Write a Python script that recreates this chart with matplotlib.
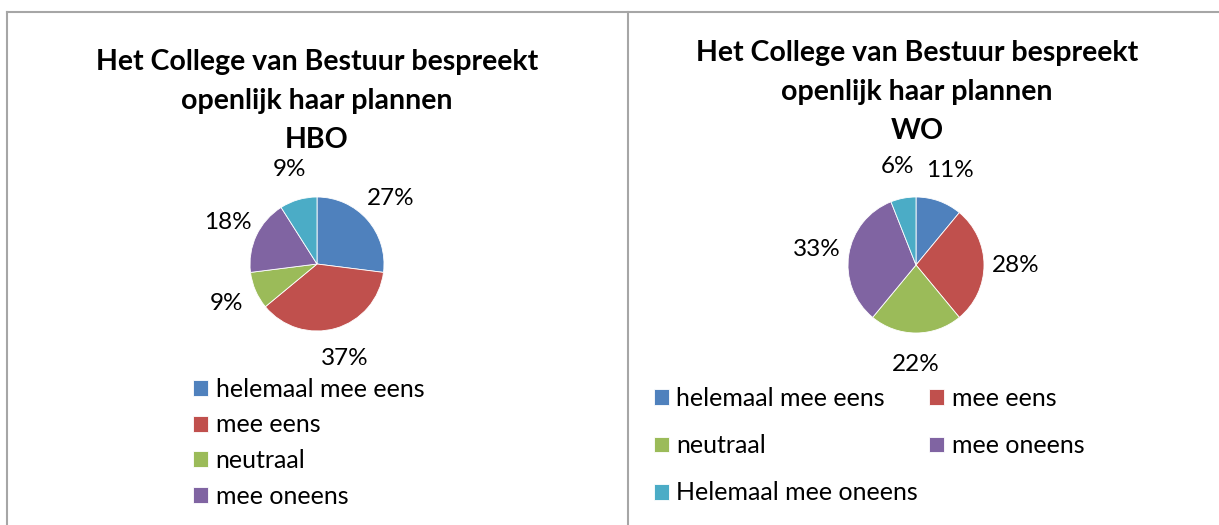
import matplotlib
matplotlib.use("Agg")
import matplotlib.pyplot as plt
from matplotlib.lines import Line2D

plt.rcParams['font.family'] = ['Lato', 'DejaVu Sans']

# ============================================
# DATA
# ============================================
categories = ["helemaal mee eens", "mee eens", "neutraal", "mee oneens", "Helemaal mee oneens"]
hbo_values = [27, 37, 9, 18, 9]
wo_values = [11, 28, 22, 33, 6]
title_main = "Het College van Bestuur bespreekt\nopenlijk haar plannen"
panel_names = ["HBO", "WO"]

colors = ["#4F81BD", "#C0504D", "#9BBB59", "#8064A2", "#4BACC6"]

W, H = 1219, 525
fig = plt.figure(figsize=(W / 100, H / 100), dpi=100)


def px_axes(cx, cy, r, span=1.6):
    """Square axes centred on pixel (cx, cy) with pie radius r pixels."""
    half = r * span
    return fig.add_axes([(cx - half) / W, (H - cy - half) / H, 2 * half / W, 2 * half / H])


def draw_pie(ax, values):
    wedges, _, autotexts = ax.pie(
        values, colors=colors, startangle=90, counterclock=False,
        autopct='%1.0f%%', pctdistance=1.47,
        wedgeprops=dict(linewidth=0.6, edgecolor='white'),
        textprops=dict(fontsize=17.5, color='black'))
    ax.set_xlim(-1.6, 1.6)
    ax.set_ylim(-1.6, 1.6)
    ax.set_aspect('equal')
    ax.axis('off')
    return wedges


legend_kw = dict(frameon=False, fontsize=18, handlelength=0.6, handleheight=0.6,
                 handletextpad=0.3, borderpad=0, borderaxespad=0)

# left panel (HBO)
ax_l = px_axes(317, 264, 67)
wedges_l = draw_pie(ax_l, hbo_values)
fig.text(317 / W, 1 - 101 / H, title_main + "\n" + panel_names[0], ha='center', va='center',
         fontsize=20.5, fontweight='bold', linespacing=1.6)
fig.legend(wedges_l[:4], categories[:4], loc='upper left',
           bbox_to_anchor=(193 / W, 1 - 378 / H), labelspacing=0.5, **legend_kw)

# right panel (WO) - two columns filled row by row
ax_r = px_axes(916, 265, 68)
wedges_r = draw_pie(ax_r, wo_values)
fig.text(917 / W, 1 - 92 / H, title_main + "\n" + panel_names[1], ha='center', va='center',
         fontsize=20.5, fontweight='bold', linespacing=1.6)
order = [0, 2, 4, 1, 3]
fig.legend([wedges_r[i] for i in order], [categories[i] for i in order], loc='upper left',
           ncol=2, bbox_to_anchor=(654 / W, 1 - 387 / H), labelspacing=0.97,
           columnspacing=0.45, **legend_kw)

# panel borders
border = dict(color='#A6A6A6', linewidth=1.5)
fig.add_artist(Line2D([7 / W, 1218 / W], [1 - 12 / H, 1 - 12 / H], **border))
fig.add_artist(Line2D([7 / W, 7 / W], [1 - 12 / H, 0], **border))
fig.add_artist(Line2D([628 / W, 628 / W], [1 - 12 / H, 0], **border))

fig.savefig("out.png", dpi=100)
